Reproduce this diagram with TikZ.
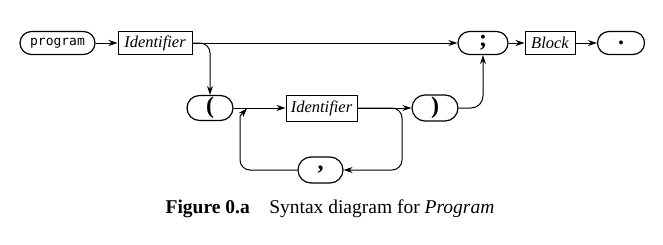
\documentclass[tikz,border=0pt]{standalone}
\usepackage{fontspec}
\setmainfont{Liberation Serif}
\newfontfamily\monofont{DejaVu Sans Mono}
\usetikzlibrary{arrows.meta}
\begin{document}
\begin{tikzpicture}[x=1pt,y=-1pt,
  pill/.style={draw, line width=1.2pt, rounded corners=11.5pt, minimum height=23pt, inner sep=0pt},
  box/.style={draw, line width=1pt, minimum height=23pt, inner sep=3pt, font=\fontsize{16.5}{16.5}\selectfont\itshape},
  punct/.style={font=\fontsize{24}{24}\selectfont\bfseries},
  conn/.style={line width=1pt, -{Stealth[length=9pt,width=6pt]}},
]
\useasboundingbox (0,0) rectangle (663,244);
% row 1
\node[pill, minimum width=75pt, font=\monofont\fontsize{13}{13}\selectfont] (prog) at (57.5,43) {program};
\node[box, minimum width=74pt] (id1) at (155,43) {Identifier};
\node[pill, minimum width=50pt, punct] (semi) at (483,43) {;};
\node[box, minimum width=50pt] (block) at (550,43) {Block};
\node[pill, minimum width=47pt, punct] (dot) at (621,43) {.};
% row 2
\node[pill, minimum width=46pt, minimum height=25pt, rounded corners=12.5pt, punct] (lp) at (210,108) {(};
\node[box, minimum width=71pt, minimum height=26pt] (id2) at (321.5,108) {Identifier};
\node[pill, minimum width=46pt, minimum height=26pt, rounded corners=13pt, punct] (rp) at (435,108) {)};
% row 3
\node[pill, minimum width=45pt, minimum height=26pt, rounded corners=13pt, punct] (comma) at (320.5,170) {,};
\coordinate (rb) at (402,170);
\coordinate (lb) at (240,126);
\coordinate (lt) at (247,108.5);
% caption
\node[font=\fontsize{19.5}{20}\selectfont, anchor=base] (cap) at (330,213) {\textbf{Figure 0.a}\quad Syntax diagram for \textit{Program}};
% connectors
\draw[conn] (prog) -- (id1);
\draw[conn] (id1) -- (semi);
\draw[conn] (semi) -- (block);
\draw[conn] (block) -- (dot);
\draw[conn, rounded corners=10pt] (id1.east) -| (lp.north);
\draw[conn] (lp) -- (id2);
\draw[conn] (id2) -- (rp);
\draw[conn, rounded corners=10pt] (id2.east) -| (rb) -- (comma.east);
\draw[conn, rounded corners=10pt] (comma.west) -| (lb) .. controls (240,116) .. (lt);
\draw[conn, rounded corners=12pt] (rp.east) -| (semi.south);
\end{tikzpicture}
\end{document}
